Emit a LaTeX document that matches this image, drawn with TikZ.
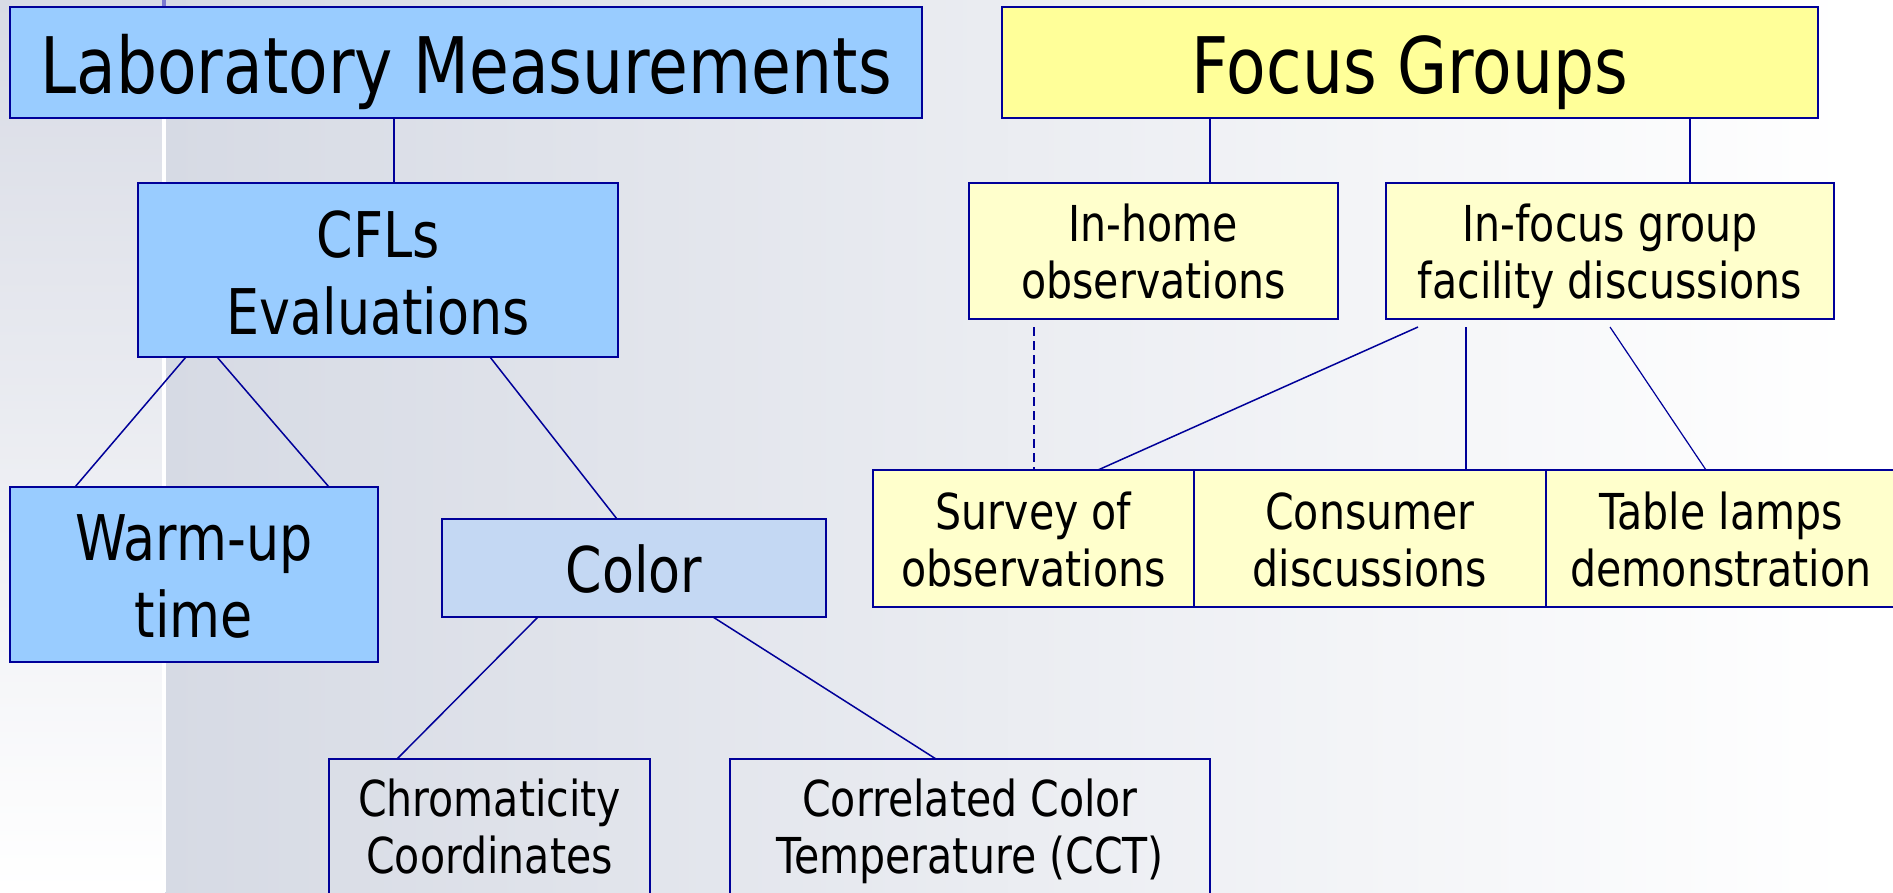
\documentclass[tikz,border=0pt]{standalone}
\usepackage{fontspec}
\setmainfont[FakeStretch=0.83]{DejaVu Sans}
\definecolor{bdr}{RGB}{0,0,153}
\definecolor{lblue}{RGB}{153,204,255}
\definecolor{lyel}{RGB}{255,255,153}
\definecolor{pyel}{RGB}{255,255,204}
\definecolor{cbox}{RGB}{196,216,243}
\definecolor{bgA}{RGB}{216,219,229}
\definecolor{bgB}{RGB}{214,218,228}
\definecolor{purp}{RGB}{122,122,208}
\newcommand\FontBig{\fontsize{78}{94}\selectfont}
\newcommand\FontMid{\fontsize{63}{77}\selectfont}
\newcommand\FontSmall{\fontsize{49.5}{57}\selectfont}
\newcommand\twoline[2]{\begin{tabular}[t]{@{}c@{}}#1\\#2\end{tabular}}
\tikzset{
  orgbox/.style={rectangle, draw=bdr, line width=2.2pt, inner sep=0pt, outer sep=0pt},
  thinbox/.style={rectangle, draw=bdr, line width=1.2pt, inner sep=0pt, outer sep=0pt},
  conn/.style={draw=bdr, line width=1.5pt},
}
\begin{document}
\begin{tikzpicture}[x=1pt,y=-1pt]
\useasboundingbox (0,0) rectangle (1893,892);
% background
\fill[white] (0,0) rectangle (1893,892);
\shade[top color=bgA, bottom color=white] (0,0) rectangle (163,892);
\shade[left color=bgB, right color=white] (165,0) rectangle (1850,892);
\draw[white, line width=3.5pt] (164,7) -- (164,892);
\draw[purp, line width=3.5pt] (164,0) -- (164,7);

% left tree
\node[orgbox, fill=lblue, minimum width=912pt, minimum height=111pt, text height=61pt, text depth=0pt, font=\FontBig] (lab) at (466,62.5) {Laboratory Measurements};
\node[orgbox, fill=lblue, minimum width=480pt, minimum height=174pt, text height=0pt, text depth=26pt, font=\FontMid] (cfl) at (378,270) {\twoline{CFLs}{Evaluations}};
\node[orgbox, fill=lblue, minimum width=368pt, minimum height=175pt, text height=0pt, text depth=29pt, font=\FontMid] (warm) at (194,574.5) {\twoline{Warm-up}{time}};
\node[orgbox, fill=cbox, minimum width=384pt, minimum height=98pt, text height=48pt, text depth=0pt, font=\FontMid] (color) at (634,568) {Color};
\node[orgbox, minimum width=321pt, minimum height=161pt, text height=0pt, text depth=47pt, font=\FontSmall] (chrom) at (489.5,839.5) {\twoline{Chromaticity}{Coordinates}};
\node[orgbox, minimum width=480pt, minimum height=161pt, text height=0pt, text depth=47pt, font=\FontSmall] (cct) at (970,839.5) {\twoline{Correlated Color}{Temperature (CCT)}};

% right tree
\node[orgbox, fill=lyel, minimum width=816pt, minimum height=111pt, text height=61pt, text depth=0pt, font=\FontBig] (focus) at (1410,62.5) {Focus Groups};
\node[orgbox, fill=pyel, minimum width=369pt, minimum height=136pt, text height=0pt, text depth=20pt, font=\FontSmall] (inhome) at (1153.5,251) {\twoline{In-home}{observations}};
\node[orgbox, fill=pyel, minimum width=448pt, minimum height=136pt, text height=0pt, text depth=20pt, font=\FontSmall] (infocus) at (1610,251) {\twoline{In-focus group}{facility discussions}};
\node[thinbox, fill=pyel, minimum width=321pt, minimum height=137pt, text height=0pt, text depth=19pt, font=\FontSmall] (survey) at (1033.5,538.5) {\twoline{Survey of}{observations}};
\node[thinbox, fill=pyel, minimum width=352pt, minimum height=137pt, text height=0pt, text depth=19pt, font=\FontSmall] (consumer) at (1370,538.5) {\twoline{Consumer}{discussions}};
\node[thinbox, fill=pyel, minimum width=350pt, minimum height=137pt, text height=0pt, text depth=19pt, font=\FontSmall] (table) at (1721,538.5) {\twoline{Table lamps}{demonstration}};
\draw[bdr, line width=2pt] (survey.north west) -- (table.north east);
\draw[bdr, line width=2pt] (survey.south west) -- (table.south east);
\draw[bdr, line width=2pt] (survey.north west) -- (survey.south west);

% connectors
\draw[conn] ([xshift=384pt]lab.south west) -- ([xshift=256pt]cfl.north west);
\draw[conn] ([xshift=48pt]cfl.south west) -- ([xshift=65pt]warm.north west);
\draw[conn] ([xshift=79pt]cfl.south west) -- ([xshift=319pt]warm.north west);
\draw[conn] ([xshift=352pt]cfl.south west) -- ([xshift=175pt]color.north west);
\draw[conn] ([xshift=96pt]color.south west) -- ([xshift=68pt]chrom.north west);
\draw[conn] ([xshift=271pt]color.south west) -- ([xshift=206pt]cct.north west);
\draw[conn] ([xshift=208pt]focus.south west) -- ([xshift=241pt]inhome.north west);
\draw[conn] ([xshift=688pt]focus.south west) -- ([xshift=304pt]infocus.north west);
\draw[conn, dash pattern=on 9pt off 5pt] ([xshift=65pt,yshift=-8pt]inhome.south west) -- ([xshift=161pt]survey.north west);
\draw[conn] ([xshift=32pt,yshift=-8pt]infocus.south west) -- ([xshift=225pt]survey.north west);
\draw[conn] ([xshift=80pt,yshift=-8pt]infocus.south west) -- ([xshift=272pt]consumer.north west);
\draw[conn, line width=1.2pt] ([xshift=224pt,yshift=-8pt]infocus.south west) -- ([xshift=160pt]table.north west);
\end{tikzpicture}
\end{document}
